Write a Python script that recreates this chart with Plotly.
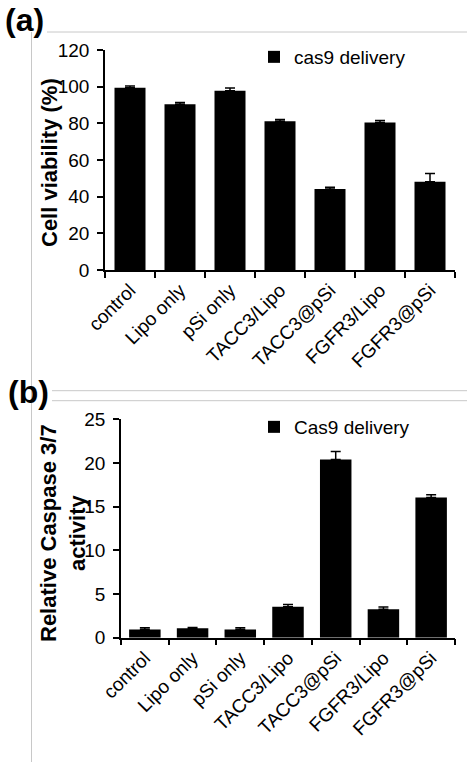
import plotly.graph_objects as go

W, H = 467, 762

categories = ["control", "Lipo only", "pSi only", "TACC3/Lipo", "TACC3@pSi", "FGFR3/Lipo", "FGFR3@pSi"]
viability = [99.4, 90.4, 97.8, 81.1, 44.2, 80.5, 48.2]
viability_err = [1.0, 1.0, 1.5, 1.0, 1.0, 1.0, 4.5]
caspase = [0.95, 1.07, 0.95, 3.55, 20.4, 3.25, 16.05]
caspase_err = [0.2, 0.1, 0.2, 0.25, 0.9, 0.25, 0.3]

FONT = "Liberation Sans, Arial, sans-serif"

def px_x(p):
    return p / W

def px_y(p):
    return 1 - p / H

fig = go.Figure()

fig.add_trace(go.Bar(
    x=categories, y=viability, name="cas9 delivery",
    marker=dict(color="black", line=dict(width=0)),
    width=0.62,
    error_y=dict(type="data", array=viability_err, arrayminus=[0]*len(viability_err),
                 symmetric=False, color="black", thickness=1.5, width=5),
    xaxis="x", yaxis="y", legend="legend",
))
fig.add_trace(go.Bar(
    x=categories, y=caspase, name="Cas9 delivery",
    marker=dict(color="black", line=dict(width=0)),
    width=0.66,
    error_y=dict(type="data", array=caspase_err, arrayminus=[0]*len(caspase_err),
                 symmetric=False, color="black", thickness=1.5, width=5),
    xaxis="x2", yaxis="y2", legend="legend2",
))

common_x = dict(type="category", showline=True, linecolor="black", linewidth=1.5,
                ticks="outside", tickson="boundaries", ticklen=6, tickwidth=1.5,
                tickcolor="black", tickangle=-45, showgrid=False, zeroline=False,
                automargin=False,
                tickfont=dict(family=FONT, size=19, color="black"), range=[-0.5, 6.5])
common_y = dict(showline=True, linecolor="black", linewidth=1.5, ticks="outside",
                ticklen=6, tickwidth=1.5, tickcolor="black", showgrid=False, zeroline=False,
                automargin=False,
                tickfont=dict(family=FONT, size=19, color="black"), ticklabelstandoff=4)

leg = dict(font=dict(family=FONT, size=19, color="black"), bgcolor="rgba(0,0,0,0)",
           borderwidth=0, xanchor="left", yanchor="middle", itemclick=False)

fig.update_layout(
    template="none",
    width=W, height=H, margin=dict(l=0, r=0, t=0, b=0, pad=0, autoexpand=False),
    paper_bgcolor="white", plot_bgcolor="white",
    showlegend=True,
    xaxis=dict(common_x, domain=[px_x(105), px_x(455)], anchor="y"),
    yaxis=dict(common_y, domain=[px_y(270), px_y(50)], anchor="x", range=[0, 120], dtick=20),
    xaxis2=dict(common_x, domain=[px_x(121), px_x(455)], anchor="y2"),
    yaxis2=dict(common_y, domain=[px_y(637.7), px_y(419.3)], anchor="x2", range=[0, 25], dtick=5),
    legend=dict(leg, x=px_x(254), y=px_y(57)),
    legend2=dict(leg, x=px_x(254), y=px_y(427)),
)

# axis titles
fig.add_annotation(text="<b>Cell viability (%)</b>", x=px_x(49), y=px_y(163), xref="paper", yref="paper",
                   textangle=-90, showarrow=False, font=dict(family=FONT, size=22, color="black"),
                   xanchor="center", yanchor="middle")
fig.add_annotation(text="<b>Relative Caspase 3/7<br>activity</b>", x=px_x(63), y=px_y(533), xref="paper", yref="paper",
                   textangle=-90, showarrow=False, font=dict(family=FONT, size=22, color="black"),
                   xanchor="center", yanchor="middle")

# panel labels
fig.add_annotation(text="<b>(a)</b>", x=px_x(3), y=px_y(0), xref="paper", yref="paper",
                   showarrow=False, font=dict(family=FONT, size=32, color="black"),
                   xanchor="left", yanchor="top")
fig.add_annotation(text="<b>(b)</b>", x=px_x(6), y=px_y(372), xref="paper", yref="paper",
                   showarrow=False, font=dict(family=FONT, size=32, color="black"),
                   xanchor="left", yanchor="top")

# decorative gray frame lines
gray = "#c8c8c8"
for (x0, y0, x1, y1) in [(47, 32, 467, 32), (31.5, 32, 31.5, 762), (52, 390.7, 467, 390.7), (52, 400.7, 467, 400.7)]:
    fig.add_shape(type="line", xref="paper", yref="paper", x0=px_x(x0), y0=px_y(y0), x1=px_x(x1), y1=px_y(y1),
                  line=dict(color=gray, width=1), layer="below")

fig.write_html("out.html", config={"displayModeBar": False},
               post_script="document.body.style.margin='0';document.body.style.overflow='hidden';")
